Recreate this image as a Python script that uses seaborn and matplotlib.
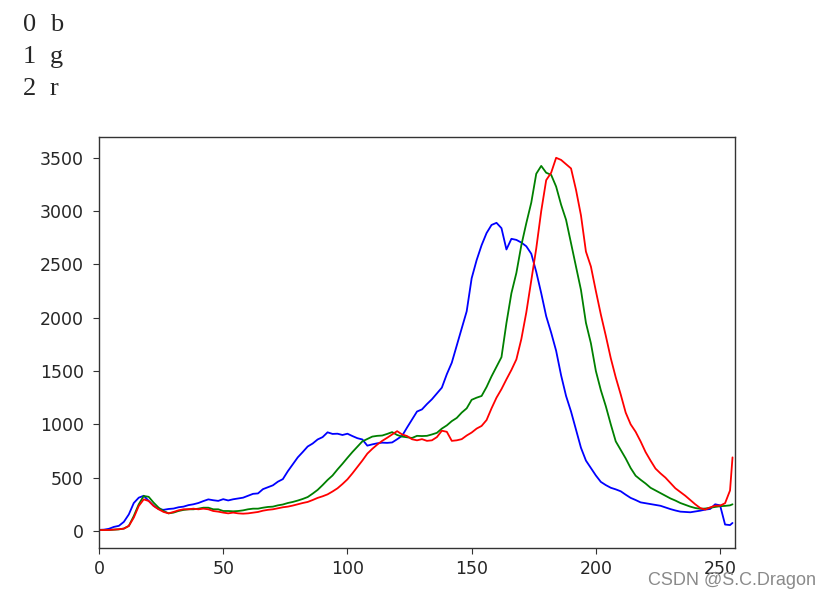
import matplotlib
matplotlib.use("Agg")
import matplotlib.pyplot as plt
import seaborn as sns
import pandas as pd

# channel names, printed in the notebook output above the plot
channels = ["b", "g", "r"]

# histogram bins (pixel intensity), read every 2 levels plus the last bin
bins = list(range(0, 256, 2)) + [255]

blue_hist = [
    10, 12, 20, 38, 48, 85, 155, 262, 312, 330, 282, 236, 205, 198, 206, 210,
    222, 228, 242, 250, 262, 280, 296, 288, 282, 298, 286, 297, 305, 312, 330, 348,
    352, 392, 410, 428, 462, 486, 560, 625, 690, 740, 792, 820, 858, 880, 925, 910,
    912, 900, 912, 890, 870, 858, 800, 812, 822, 828, 826, 830, 860, 892, 970, 1045,
    1120, 1140, 1190, 1235, 1290, 1344, 1470, 1578, 1740, 1900, 2060, 2370, 2540, 2680, 2794, 2870,
    2890, 2840, 2640, 2740, 2730, 2705, 2670, 2600, 2430, 2230, 2014, 1860, 1690, 1460, 1266, 1120,
    950, 780, 660, 590, 520, 460, 430, 405, 390, 372, 340, 310, 290, 268, 260, 252,
    245, 236, 220, 205, 192, 181, 178, 175, 182, 190, 200, 206, 250, 240, 60, 55,
    75,
]

green_hist = [
    8, 8, 9, 12, 15, 22, 47, 140, 250, 328, 320, 265, 218, 187, 165, 172,
    187, 197, 203, 203, 209, 218, 218, 203, 203, 187, 187, 184, 187, 193, 203, 209,
    209, 218, 225, 228, 240, 248, 262, 272, 285, 300, 318, 350, 385, 430, 478, 520,
    577, 630, 686, 740, 790, 840, 862, 885, 892, 895, 910, 927, 900, 885, 878, 872,
    892, 890, 892, 905, 920, 960, 990, 1030, 1060, 1110, 1150, 1230, 1250, 1266, 1350, 1450,
    1540, 1630, 1950, 2230, 2420, 2680, 2887, 3080, 3350, 3424, 3360, 3340, 3230, 3060, 2918, 2700,
    2480, 2260, 1952, 1760, 1500, 1320, 1170, 1000, 840, 760, 680, 590, 518, 480, 445, 405,
    380, 355, 330, 305, 285, 262, 245, 228, 215, 208, 210, 218, 225, 232, 235, 240,
    250,
]

red_hist = [
    8, 8, 9, 12, 16, 22, 47, 125, 234, 296, 281, 234, 203, 178, 165, 178,
    193, 203, 203, 209, 203, 209, 203, 187, 181, 172, 165, 172, 165, 162, 165, 172,
    178, 190, 198, 203, 212, 222, 228, 238, 250, 262, 272, 290, 310, 325, 343, 370,
    400, 440, 484, 540, 600, 660, 725, 770, 810, 845, 874, 905, 936, 905, 890, 860,
    850, 861, 845, 850, 880, 940, 930, 845, 850, 861, 895, 923, 960, 985, 1040, 1150,
    1250, 1330, 1422, 1510, 1609, 1800, 2050, 2350, 2650, 3000, 3290, 3360, 3500, 3480, 3440, 3400,
    3200, 2960, 2620, 2480, 2250, 2030, 1830, 1620, 1440, 1280, 1110, 1000, 930, 840, 740, 660,
    585, 540, 500, 450, 400, 365, 330, 290, 250, 215, 200, 221, 237, 237, 260, 380,
    690,
]

sns.set_style("ticks")
plt.rcParams["font.family"] = ["DejaVu Sans"]

hist = pd.DataFrame({
    "bin": bins * 3,
    "count": blue_hist + green_hist + red_hist,
    "channel": [c for c in channels for _ in bins],
})

fig = plt.figure(figsize=(8.31, 5.96), dpi=100)

# printed output of the enumerate loop
for i, col in enumerate(channels):
    y = 1 - (31 + 32.2 * i) / 596
    fig.text(23 / 831, y, str(i), fontsize=19, family="Liberation Serif",
             va="baseline", ha="left")
    fig.text(50 / 831, y, col, fontsize=19, family="Liberation Serif",
             va="baseline", ha="left")

ax = fig.add_axes([99 / 831, 1 - 548 / 596, 636 / 831, 411 / 596])

sns.lineplot(
    data=hist,
    x="bin",
    y="count",
    hue="channel",
    palette={"b": "#0000ff", "g": "#008000", "r": "#ff0000"},
    linewidth=1.3,
    legend=False,
    ax=ax
)

ax.set_xlim([0, 256])
ax.set_ylim(-160, 3695)
ax.set_xlabel("")
ax.set_ylabel("")
ax.tick_params(labelsize=12.5, color="#333333", length=4)
ax.tick_params(axis="y", pad=7)
ax.tick_params(axis="x", pad=5)
for spine in ax.spines.values():
    spine.set_color("#333333")
    spine.set_linewidth(1.0)

# blog watermark
fig.text(648 / 831, 1 - 585 / 596, "CSDN @S.C.Dragon", fontsize=13,
         family="Liberation Sans", color="#8a8a8a", ha="left", va="baseline")

fig.savefig("out.png", dpi=100)
